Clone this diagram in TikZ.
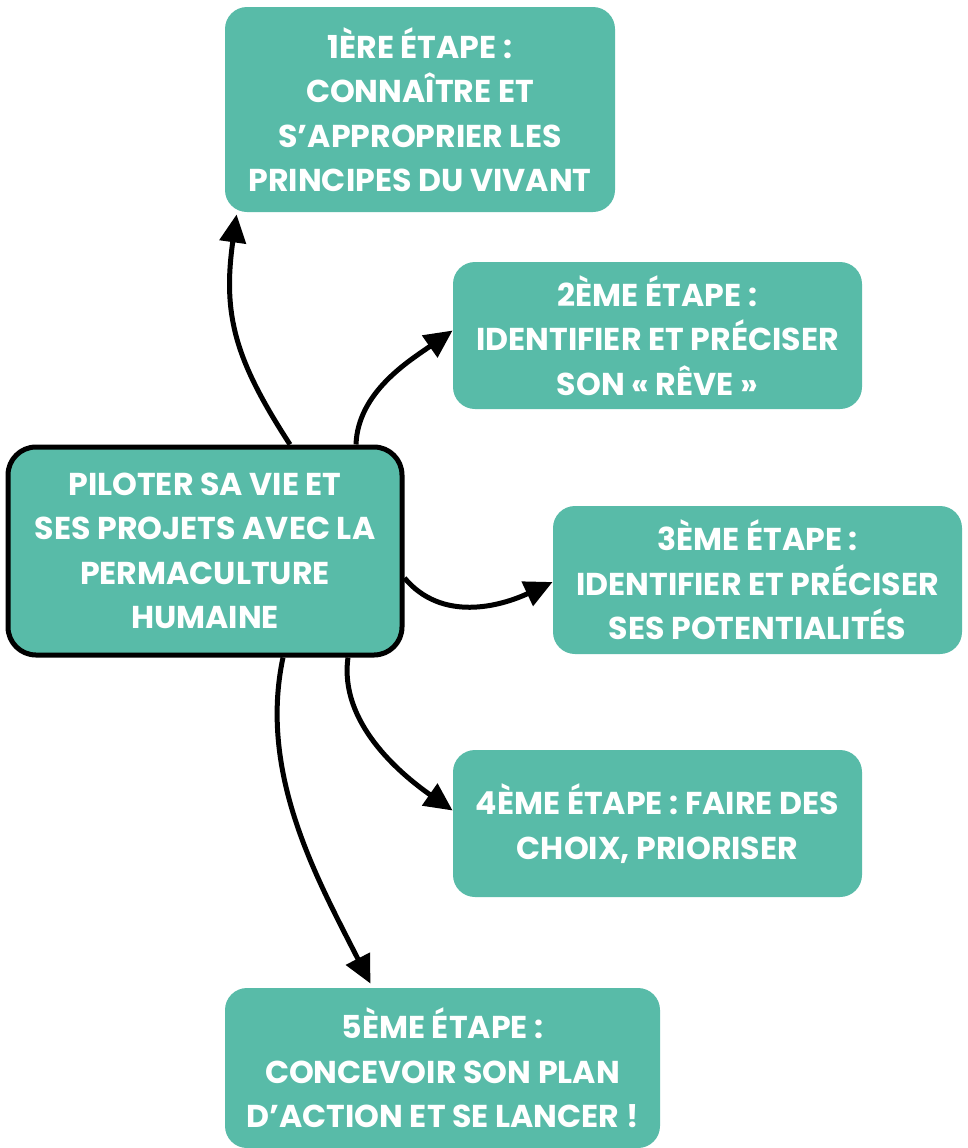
\documentclass[tikz,border=0pt]{standalone}
\usepackage{fontspec}
\setmainfont{Poppins}
\usepackage{tikz}
\usetikzlibrary{arrows.meta, positioning, calc}
\definecolor{stepgreen}{RGB}{88,187,168}

\begin{document}
\begin{tikzpicture}[
    x=0.5pt, y=0.5pt,
    stepbox/.style={fill=stepgreen, draw=none, rounded corners=11pt, align=center,
                    text=white, font=\fontsize{15.8}{22.25}\selectfont\bfseries,
                    inner sep=0pt},
    mainbox/.style={stepbox, draw=black, line width=2.5pt, rounded corners=14pt},
    arr/.style={-{Triangle[length=14pt, width=13pt]}, line width=2.5pt, black}
]
\useasboundingbox (0,0) rectangle (968,-1148);

% Centre
\node[mainbox, minimum width=197pt, minimum height=104pt] (centre) at (205,-551)
    {PILOTER SA VIE ET\\SES PROJETS AVEC LA\\PERMACULTURE\\HUMAINE};

% Etapes
\node[stepbox, minimum width=195pt, minimum height=102.5pt] (e1) at (420,-109.5)
    {1ÈRE ÉTAPE :\\CONNAÎTRE ET\\S’APPROPRIER LES\\PRINCIPES DU VIVANT};
\node[stepbox, minimum width=204.5pt, minimum height=73.5pt] (e2) at (657.5,-335.5)
    {2ÈME ÉTAPE :\\IDENTIFIER ET PRÉCISER\\SON « RÊVE »};
\node[stepbox, minimum width=204.5pt, minimum height=74pt] (e3) at (757.5,-580)
    {3ÈME ÉTAPE :\\IDENTIFIER ET PRÉCISER\\SES POTENTIALITÉS};
\node[stepbox, minimum width=204.5pt, minimum height=73.5pt] (e4) at (657.5,-823.5)
    {4ÈME ÉTAPE : FAIRE DES\\CHOIX, PRIORISER};
\node[stepbox, minimum width=217.5pt, minimum height=80pt] (e5) at (442.5,-1068)
    {5ÈME ÉTAPE :\\CONCEVOIR SON PLAN\\D’ACTION ET SE LANCER !};

% Fleches
\draw[arr] ($(centre.north)+(85,0)$) to[out=123, in=262, looseness=1.1] ($(e1.south west)+(12,-2)$);
\draw[arr] ($(centre.north)+(151,0)$) to[out=88, in=215, looseness=0.9] ($(e2.west)+(0,5)$);
\draw[arr] ($(centre.east)+(0,-27)$) to[out=-50, in=205, looseness=1.0] ($(e3.west)+(0,-2)$);
\draw[arr] ($(centre.south)+(143,0)$) to[out=262, in=145, looseness=0.9] ($(e4.west)+(0,13)$);
\draw[arr] ($(centre.south)+(78,0)$) to[out=258, in=117, looseness=0.9] ($(e5.north)+(-72,4)$);

\end{tikzpicture}
\end{document}
